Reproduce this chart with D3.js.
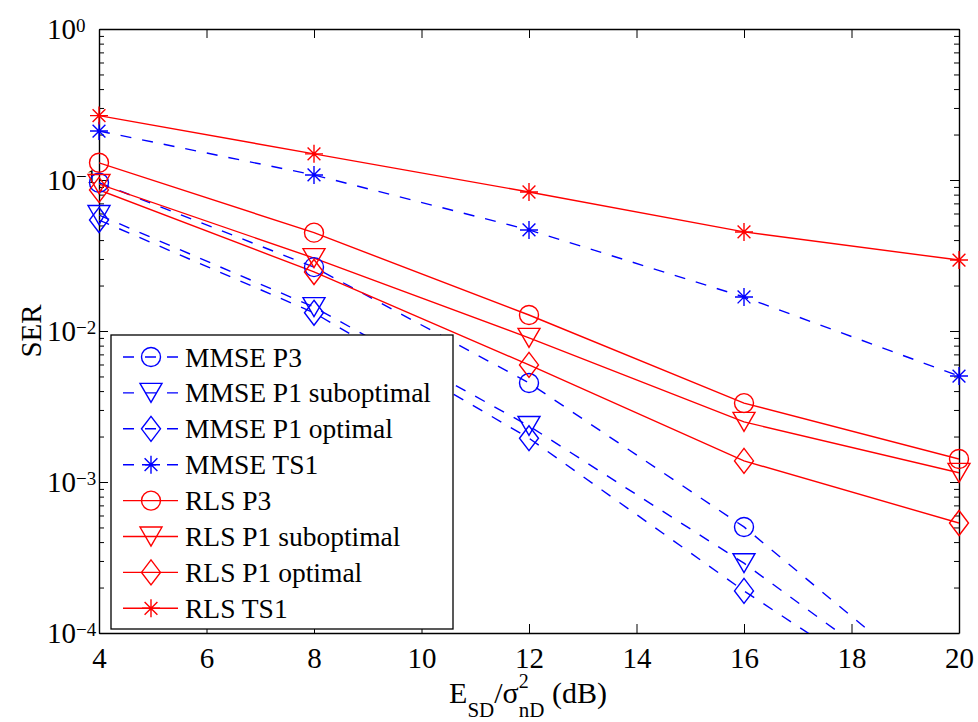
<!DOCTYPE html>
<html>
<head>
<meta charset="utf-8">
<script src="https://cdn.jsdelivr.net/npm/d3@7/dist/d3.min.js"></script>
<style>
  html, body { margin: 0; padding: 0; background: #fff; }
  svg { display: block; }
  text { font-family: "Liberation Serif", "Times New Roman", serif; fill: #000; }
</style>
</head>
<body>
<svg id="chart" width="978" height="722"></svg>
<script>
// SNR grid (dB)
const snr = [4, 8, 12, 16, 20];

// Symbol error rates per receiver / pilot scheme
const mmseP3     = [0.096, 0.0265, 0.00453, 5.04e-4, 3.3e-5];
const mmseP1Sub  = [0.0586, 0.0144, 0.00235, 2.9e-4, 2.65e-5];
const mmseP1Opt  = [0.0543, 0.0132, 0.00195, 1.9e-4, 2.2e-5];
const mmseTS1    = [0.211, 0.108, 0.0467, 0.0168, 0.00503];
const rlsP3      = [0.130, 0.0448, 0.01276, 0.00333, 0.00142];
const rlsP1Sub   = [0.094, 0.0304, 0.0090, 0.0025, 0.00115];
const rlsP1Opt   = [0.086, 0.0246, 0.00596, 0.00138, 0.000535];
const rlsTS1     = [0.267, 0.149, 0.0833, 0.0453, 0.0295];

const seriesNames = ["MMSE P3", "MMSE P1 suboptimal", "MMSE P1 optimal", "MMSE TS1",
                     "RLS P3", "RLS P1 suboptimal", "RLS P1 optimal", "RLS TS1"];
const seriesValues = [mmseP3, mmseP1Sub, mmseP1Opt, mmseTS1, rlsP3, rlsP1Sub, rlsP1Opt, rlsTS1];
const seriesMarkers = ["circle", "triangle", "diamond", "star", "circle", "triangle", "diamond", "star"];

const xTicks = [4, 6, 8, 10, 12, 14, 16, 18, 20];
const yDecades = [-4, -3, -2, -1, 0];

// ---- layout ----
const L = 99, T = 29, R = 959, B = 633;
const svg = d3.select("#chart");

const x = d3.scaleLinear().domain([4, 20]).range([L, R]);
const y = d3.scaleLog().domain([1e-4, 1]).range([B, T]);

const BLUE = "#0000ff", RED = "#ff0000";
const styleOf = i => i < 4
  ? { color: BLUE, dash: "11,11" }
  : { color: RED, dash: null };

// marker shapes centred on (0,0)
function markerPath(type) {
  const p = d3.path();
  if (type === "circle") {
    p.moveTo(9.5, 0); p.arc(0, 0, 9.5, 0, 2 * Math.PI);
  } else if (type === "triangle") {
    p.moveTo(-11, -9.5); p.lineTo(11, -9.5); p.lineTo(0, 9.5); p.closePath();
  } else if (type === "diamond") {
    p.moveTo(0, -12.5); p.lineTo(9.5, 0); p.lineTo(0, 12.5); p.lineTo(-9.5, 0); p.closePath();
  } else if (type === "star") {
    const d = 6.4;
    p.moveTo(0, -9); p.lineTo(0, 9);
    p.moveTo(-9, 0); p.lineTo(9, 0);
    p.moveTo(-d, -d); p.lineTo(d, d);
    p.moveTo(-d, d); p.lineTo(d, -d);
  }
  return p.toString();
}

// ---- clip region for curves ----
svg.append("defs").append("clipPath").attr("id", "plotClip")
  .append("rect").attr("x", L).attr("y", T).attr("width", R - L).attr("height", B - T);

// ---- axes ----
const axisG = svg.append("g").attr("class", "axes");
const minorVals = [];
for (let e = -4; e < 0; e++) for (let m = 2; m <= 9; m++) minorVals.push(m * Math.pow(10, e));
const majorVals = yDecades.map(e => Math.pow(10, e));

function styleAxis(g) {
  g.selectAll("path.domain").attr("stroke", "#000").attr("stroke-width", 1.4);
  g.selectAll(".tick line").attr("stroke", "#000").attr("stroke-width", 1);
}

// bottom axis with labels
const gx = axisG.append("g").attr("transform", `translate(0,${B})`)
  .call(d3.axisBottom(x).tickValues(xTicks).tickSizeInner(-9).tickSizeOuter(0).tickFormat(d3.format("d")));
styleAxis(gx);
gx.selectAll(".tick text").attr("y", 35).attr("dy", 0)
  .style("font-size", "29px").style("font-family", "'Liberation Serif', 'Times New Roman', serif").attr("fill", "#000");

// top axis
const gxt = axisG.append("g").attr("transform", `translate(0,${T})`)
  .call(d3.axisTop(x).tickValues(xTicks).tickSizeInner(-9).tickSizeOuter(0).tickFormat(""));
styleAxis(gxt);

// left / right major + minor
[["left", L], ["right", R]].forEach(([side, pos]) => {
  const mk = side === "left" ? d3.axisLeft : d3.axisRight;
  const gM = axisG.append("g").attr("transform", `translate(${pos},0)`)
    .call(mk(y).tickValues(majorVals).tickSizeInner(-9).tickSizeOuter(0).tickFormat(""));
  styleAxis(gM);
  const gm = axisG.append("g").attr("transform", `translate(${pos},0)`)
    .call(mk(y).tickValues(minorVals).tickSizeInner(-5).tickSizeOuter(0).tickFormat(""));
  styleAxis(gm);
  gm.select("path.domain").remove();
});

// y tick labels as 10^k
const yLab = axisG.append("g");
yDecades.forEach(e => {
  const ty = y(Math.pow(10, e));
  yLab.append("text").attr("x", 76).attr("y", ty + 10)
    .attr("text-anchor", "end").style("font-size", "29px").text("10");
  yLab.append("text").attr("x", 76).attr("y", ty + 3)
    .attr("text-anchor", "start").style("font-size", "19px")
    .text(e === 0 ? "0" : "\u2212" + Math.abs(e));
});

// ---- series ----
const line = d3.line().x((d, i) => x(snr[i])).y(d => y(d));
const plotG = svg.append("g");
seriesValues.forEach((vals, i) => {
  const st = styleOf(i);
  plotG.append("path")
    .attr("clip-path", "url(#plotClip)")
    .attr("d", line(vals))
    .attr("fill", "none")
    .attr("stroke", st.color)
    .attr("stroke-width", 1.4)
    .attr("stroke-dasharray", st.dash);
});
seriesValues.forEach((vals, i) => {
  const st = styleOf(i);
  plotG.append("g").selectAll("path")
    .data(vals.map((v, k) => ({ v, s: snr[k] })).filter(d => d.v >= 1e-4))
    .join("path")
    .attr("transform", d => `translate(${x(d.s)},${y(d.v)})`)
    .attr("d", markerPath(seriesMarkers[i]))
    .attr("fill", "none")
    .attr("stroke", st.color)
    .attr("stroke-width", 1.4);
});

// ---- axis titles ----
svg.append("text")
  .attr("transform", "translate(41,331) rotate(-90)")
  .attr("text-anchor", "middle").style("font-size", "29px").text("SER");

// x label: E_SD / σ^2_nD (dB)
const xl = svg.append("g");
let cx = 0;
function piece(t, size, dyBase, advance = true) {
  const el = xl.append("text").attr("x", cx).attr("y", dyBase)
    .style("font-size", size + "px").style("white-space", "pre").text(t);
  const w = el.node().getComputedTextLength();
  if (advance) cx += w;
  return w;
}
piece("E", 30, 0);
piece("SD", 21, 14);
piece("/", 30, 0);
piece("\u03c3", 30, 0);
const w2 = piece("2", 20, -15, false);
const wnD = piece("nD", 21, 14, false);
cx += Math.max(w2, wnD);
piece("\u00a0(dB)", 30, 0);
xl.attr("transform", `translate(${528 - cx / 2},703)`);

// ---- legend ----
const lg = svg.append("g");
lg.append("rect").attr("x", 111).attr("y", 335).attr("width", 342).attr("height", 294)
  .attr("fill", "#fff").attr("stroke", "#000").attr("stroke-width", 1.3);
seriesNames.forEach((name, i) => {
  const st = styleOf(i);
  const cy = 357 + i * 35.9;
  lg.append("line").attr("x1", 123).attr("x2", 178).attr("y1", cy).attr("y2", cy)
    .attr("stroke", st.color).attr("stroke-width", 1.4).attr("stroke-dasharray", st.dash);
  lg.append("path").attr("transform", `translate(151,${cy})`)
    .attr("d", markerPath(seriesMarkers[i]))
    .attr("fill", "none").attr("stroke", st.color).attr("stroke-width", 1.4);
  lg.append("text").attr("x", 185).attr("y", cy + 9.5)
    .style("font-size", "27.5px").text(name);
});
</script>
</body>
</html>
